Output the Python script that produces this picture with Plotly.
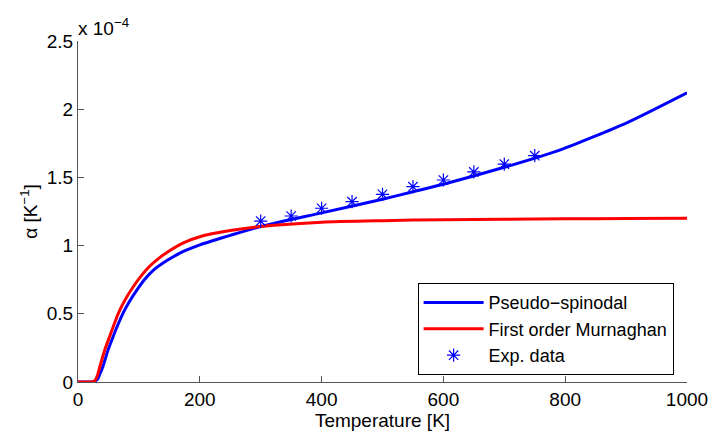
import plotly.graph_objects as go

# Temperatures [K] and alpha values in units of 1e-4 K^-1
T_spin = [0, 20, 25, 32, 36, 41, 49, 57, 66, 74, 83, 96, 110, 124, 146, 173, 200, 217, 250, 300,
          400, 500, 550, 600, 700, 791, 901, 1000]
a_spin = [0, 0, 0.003, 0.02, 0.06, 0.114, 0.23, 0.325, 0.425, 0.505, 0.58, 0.67, 0.755, 0.82,
          0.89, 0.957, 1.005, 1.03, 1.075, 1.14, 1.24, 1.34, 1.395, 1.45, 1.574, 1.70, 1.90, 2.12]

T_murn = [0, 20, 25, 28, 32, 36, 44, 52, 61, 69, 77, 91, 105, 118, 132, 146, 173, 200, 250, 300,
          400, 500, 600, 700, 800, 900, 1000]
a_murn = [0, 0, 0.003, 0.012, 0.05, 0.114, 0.236, 0.334, 0.444, 0.53, 0.60, 0.70, 0.785, 0.85,
          0.905, 0.95, 1.02, 1.065, 1.11, 1.14, 1.172, 1.183, 1.19, 1.193, 1.196, 1.198, 1.20]

T_exp = [300, 350, 400, 450, 500, 550, 600, 650, 700, 750]
a_exp = [1.18, 1.217, 1.274, 1.322, 1.376, 1.432, 1.481, 1.54, 1.598, 1.659]

x_ticks = [0, 200, 400, 600, 800, 1000]
y_ticks = [0, 0.5, 1, 1.5, 2, 2.5]
y_tick_labels = ["0", "0.5", "1", "1.5", "2", "2.5"]

FONT = "Liberation Sans, Arial, sans-serif"
AX = "#555555"
FS = 19

fig = go.Figure()
fig.add_trace(go.Scatter(x=T_spin, y=a_spin, mode="lines", name="Pseudo\u2212spinodal",
                         line=dict(color="#0000ff", width=3, shape="spline", smoothing=0.6)))
fig.add_trace(go.Scatter(x=T_murn, y=a_murn, mode="lines", name="First order Murnaghan",
                         line=dict(color="#ff0000", width=3, shape="spline", smoothing=0.6)))
fig.add_trace(go.Scatter(x=T_exp, y=a_exp, mode="markers", name="Exp. data",
                         marker=dict(symbol="asterisk-open", size=11, color="#0000ff",
                                     line=dict(color="#0000ff", width=1.2))))

fig.update_layout(
    width=710, height=436,
    margin=dict(l=78, r=23, t=41, b=54),
    paper_bgcolor="white", plot_bgcolor="white",
    font=dict(family=FONT, size=FS, color="black"),
    showlegend=True,
    legend=dict(x=0.978, y=0.02, xanchor="right", yanchor="bottom",
                bgcolor="white", bordercolor="black", borderwidth=1,
                font=dict(size=18), tracegroupgap=0, itemwidth=60),
    xaxis=dict(range=[0, 1000], tickvals=x_ticks, ticks="inside", ticklen=6,
               tickcolor=AX, showline=True, linecolor=AX, linewidth=1,
               showgrid=False, zeroline=False, tickfont=dict(size=FS), automargin=False,
               title=dict(text="Temperature [K]", standoff=0, font=dict(size=FS))),
    yaxis=dict(range=[0, 2.5], tickvals=y_ticks, ticktext=y_tick_labels, ticks="inside",
               ticklen=6, tickcolor=AX, showline=True, linecolor=AX, linewidth=1,
               showgrid=False, zeroline=False, tickfont=dict(size=FS), automargin=False,
               title=dict(text="\u03b1 [K<sup>\u22121</sup>]", standoff=4, font=dict(size=FS))),
)

fig.add_annotation(xref="paper", yref="paper", x=0, y=1, xanchor="left", yanchor="bottom",
                   text="x 10<sup>\u22124</sup>", showarrow=False, font=dict(size=FS),
                   xshift=-2, yshift=0)

# remove the default 8px page margin so the figure fills the window exactly
fig.write_html("out.html", config={"displayModeBar": False},
               post_script="document.body.style.margin='0';document.body.style.overflow='hidden';")
